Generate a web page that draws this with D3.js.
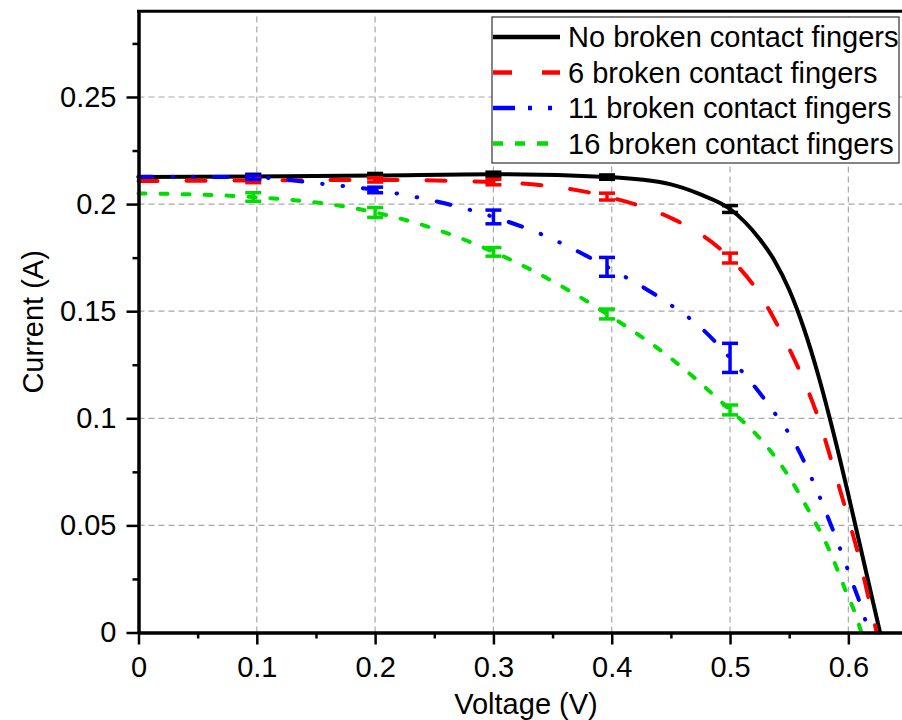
<!DOCTYPE html>
<html>
<head>
<meta charset="utf-8">
<script src="https://cdn.jsdelivr.net/npm/d3@7"></script>
<style>
  html, body { margin: 0; padding: 0; background: #ffffff; }
  svg { display: block; font-family: "Liberation Sans", Arial, sans-serif; }
</style>
</head>
<body>
<svg id="chart" width="902" height="720"></svg>
<script>
// ---- I-V curves of a solar cell with broken contact fingers ----
const seriesNames = [
  "No broken contact fingers",
  "6 broken contact fingers",
  "11 broken contact fingers",
  "16 broken contact fingers"
];

// Curve samples: voltage (V) and current (A)
const vNone = [0, 0.097, 0.2, 0.3, 0.396, 0.45, 0.475, 0.5, 0.525, 0.5375, 0.55, 0.5625, 0.575, 0.5875, 0.6, 0.6125, 0.6268];
const iNone = [0.2127, 0.2129, 0.2133, 0.2139, 0.2126, 0.2092, 0.2045, 0.1977, 0.1837, 0.1737, 0.16, 0.1418, 0.1193, 0.093, 0.0643, 0.0343, 0];

const v6 = [0, 0.097, 0.2, 0.3, 0.396, 0.45, 0.475, 0.5, 0.525, 0.55, 0.5625, 0.575, 0.5865, 0.598, 0.609, 0.6183, 0.624];
const i6 = [0.2108, 0.211, 0.2113, 0.2103, 0.2035, 0.1935, 0.186, 0.1748, 0.158, 0.1325, 0.1175, 0.0995, 0.0787, 0.0569, 0.0351, 0.0133, 0];

const v11 = [0, 0.097, 0.156, 0.2, 0.3, 0.338, 0.396, 0.4477, 0.475, 0.5, 0.5338, 0.5564, 0.5733, 0.5902, 0.6042, 0.6118, 0.6172];
const i11 = [0.2128, 0.2125, 0.2094, 0.2066, 0.194, 0.1865, 0.1707, 0.1537, 0.1425, 0.1282, 0.1054, 0.0867, 0.0665, 0.0432, 0.0222, 0.0105, 0];

const v16 = [0, 0.097, 0.2, 0.25, 0.3, 0.35, 0.396, 0.45, 0.5, 0.524, 0.5479, 0.5662, 0.5845, 0.5986, 0.6057, 0.611];
const i16 = [0.205, 0.2033, 0.1961, 0.1885, 0.1777, 0.164, 0.1487, 0.128, 0.1039, 0.0914, 0.0743, 0.0572, 0.0377, 0.0183, 0.009, 0];

// Measured points with standard deviation
const barV = [0.097, 0.2, 0.3, 0.396, 0.5];
const barMeanNone = [0.2129, 0.2133, 0.2139, 0.2126, 0.1977];
const barErrNone  = [0.001, 0.001, 0.001, 0.001, 0.0016];
const barMean6 = [0.211, 0.2113, 0.2103, 0.2035, 0.1748];
const barErr6  = [0.001, 0.001, 0.0013, 0.0016, 0.0023];
const barMean11 = [0.2125, 0.2066, 0.194, 0.1707, 0.1282];
const barErr11  = [0.001, 0.0013, 0.0032, 0.0044, 0.0068];
const barMean16 = [0.2033, 0.1961, 0.1777, 0.1487, 0.1039];
const barErr16  = [0.002, 0.0023, 0.002, 0.0023, 0.0023];

// Axis ticks
const xTicks = [0, 0.1, 0.2, 0.3, 0.4, 0.5, 0.6];
const xMinorTicks = [0.05, 0.15, 0.25, 0.35, 0.45, 0.55, 0.65];
const yTicks = [0, 0.05, 0.1, 0.15, 0.2, 0.25];
const yMinorTicks = [0.025, 0.075, 0.125, 0.175, 0.225, 0.275];
const xLabels = ["0", "0.1", "0.2", "0.3", "0.4", "0.5", "0.6"];
const yLabels = ["0", "0.05", "0.1", "0.15", "0.2", "0.25"];

// ---- styling ----
const FONT = 29;
const colors = ["#000000", "#ff0000", "#0000ff", "#00dd00"];
const curveDash = [null, "19 29", "14 20 0.5 20 0.5 20", "7 15"];
const legendDash = [null, "19 30", "22 13 4 16 4 20", "10 12 10 12 11 20"];

const series = [
  { v: vNone, i: iNone, bm: barMeanNone, be: barErrNone },
  { v: v6, i: i6, bm: barMean6, be: barErr6 },
  { v: v11, i: i11, bm: barMean11, be: barErr11 },
  { v: v16, i: i16, bm: barMean16, be: barErr16 }
].map((s, k) => ({
  ...s,
  name: seriesNames[k],
  color: colors[k],
  points: s.v.map((vv, j) => [vv, s.i[j]]),
  bars: barV.map((vv, j) => ({ v: vv, m: s.bm[j], e: s.be[j] }))
}));

const svg = d3.select("#chart");
svg.append("rect").attr("width", 902).attr("height", 720).attr("fill", "#ffffff");

const x = d3.scaleLinear().domain([0, 0.65]).range([138.5, 907.5]);
const y = d3.scaleLinear().domain([0, 0.29]).range([632.5, 11.3]);

// grid
const grid = svg.append("g")
  .attr("stroke", "#a8a8a8").attr("stroke-width", 1.2).attr("stroke-dasharray", "6 4");
grid.selectAll("line.gx").data(xTicks.filter(d => d > 0)).join("line")
  .attr("x1", d => x(d)).attr("x2", d => x(d))
  .attr("y1", y(0)).attr("y2", y(0.29));
grid.selectAll("line.gy").data(yTicks.filter(d => d > 0)).join("line")
  .attr("y1", d => y(d)).attr("y2", d => y(d))
  .attr("x1", x(0)).attr("x2", x(0.65));

// curves and error bars
const line = d3.line().x(d => x(d[0])).y(d => y(d[1])).curve(d3.curveMonotoneX);
series.forEach((s, k) => {
  const g = svg.append("g");
  g.append("path")
    .attr("d", line(s.points))
    .attr("fill", "none")
    .attr("stroke", s.color)
    .attr("stroke-width", 4)
    .attr("stroke-linecap", "round")
    .attr("stroke-linejoin", "round")
    .attr("stroke-dasharray", curveDash[k]);
  const eb = g.selectAll("g.eb").data(s.bars).join("g")
    .attr("stroke", s.color).attr("stroke-width", 3.5);
  eb.append("line")
    .attr("x1", d => x(d.v)).attr("x2", d => x(d.v))
    .attr("y1", d => y(d.m - d.e)).attr("y2", d => y(d.m + d.e));
  eb.append("line")
    .attr("x1", d => x(d.v) - 8).attr("x2", d => x(d.v) + 8)
    .attr("y1", d => y(d.m - d.e)).attr("y2", d => y(d.m - d.e));
  eb.append("line")
    .attr("x1", d => x(d.v) - 8).attr("x2", d => x(d.v) + 8)
    .attr("y1", d => y(d.m + d.e)).attr("y2", d => y(d.m + d.e));
});

// axes
function styleAxis(g) {
  g.select(".domain").attr("stroke", "#000").attr("stroke-width", 3);
  g.selectAll(".tick line").attr("stroke", "#000").attr("stroke-width", 2.5);
  g.selectAll(".tick text").attr("fill", "#000").attr("font-size", FONT)
    .attr("font-family", "'Liberation Sans', Arial, sans-serif");
}

svg.append("g").attr("transform", `translate(0,${y(0)})`)
  .call(d3.axisBottom(x).tickValues(xMinorTicks).tickSize(6).tickSizeOuter(0).tickFormat(""))
  .call(styleAxis);
svg.append("g").attr("transform", `translate(${x(0)},0)`)
  .call(d3.axisLeft(y).tickValues(yMinorTicks).tickSize(6).tickSizeOuter(0).tickFormat(""))
  .call(styleAxis);
svg.append("g").attr("transform", `translate(0,${y(0)})`)
  .call(d3.axisBottom(x).tickValues(xTicks).tickSize(12).tickPadding(12).tickSizeOuter(0)
    .tickFormat((d, j) => xLabels[j]))
  .call(styleAxis);
svg.append("g").attr("transform", `translate(${x(0)},0)`)
  .call(d3.axisLeft(y).tickValues(yTicks).tickSize(12).tickPadding(10).tickSizeOuter(0)
    .tickFormat((d, j) => yLabels[j]))
  .call(styleAxis);

// top frame
svg.append("line")
  .attr("x1", x(0) - 1.5).attr("x2", x(0.65))
  .attr("y1", y(0.29)).attr("y2", y(0.29))
  .attr("stroke", "#000").attr("stroke-width", 3);

// axis titles
svg.append("text")
  .attr("x", 526).attr("y", 714)
  .attr("text-anchor", "middle").attr("font-size", FONT).attr("fill", "#000")
  .text("Voltage (V)");
svg.append("text")
  .attr("transform", `translate(43,${(y(0) + y(0.29)) / 2}) rotate(-90)`)
  .attr("text-anchor", "middle").attr("font-size", FONT).attr("fill", "#000")
  .text("Current (A)");

// legend
const legend = svg.append("g");
legend.append("rect")
  .attr("x", 492).attr("y", 17).attr("width", 407).attr("height", 146)
  .attr("fill", "#ffffff").attr("stroke", "#333").attr("stroke-width", 1.2);
const rows = legend.selectAll("g.row").data(series).join("g")
  .attr("transform", (d, k) => `translate(0,${47 + k * 35.5})`);
rows.append("line")
  .attr("x1", 493).attr("x2", 560).attr("y1", -10).attr("y2", -10)
  .attr("stroke", d => d.color).attr("stroke-width", 4.5)
  .attr("stroke-dasharray", (d, k) => legendDash[k]);
rows.append("text")
  .attr("x", 568).attr("y", 0)
  .attr("font-size", FONT).attr("fill", "#000")
  .text(d => d.name);
</script>
</body>
</html>
